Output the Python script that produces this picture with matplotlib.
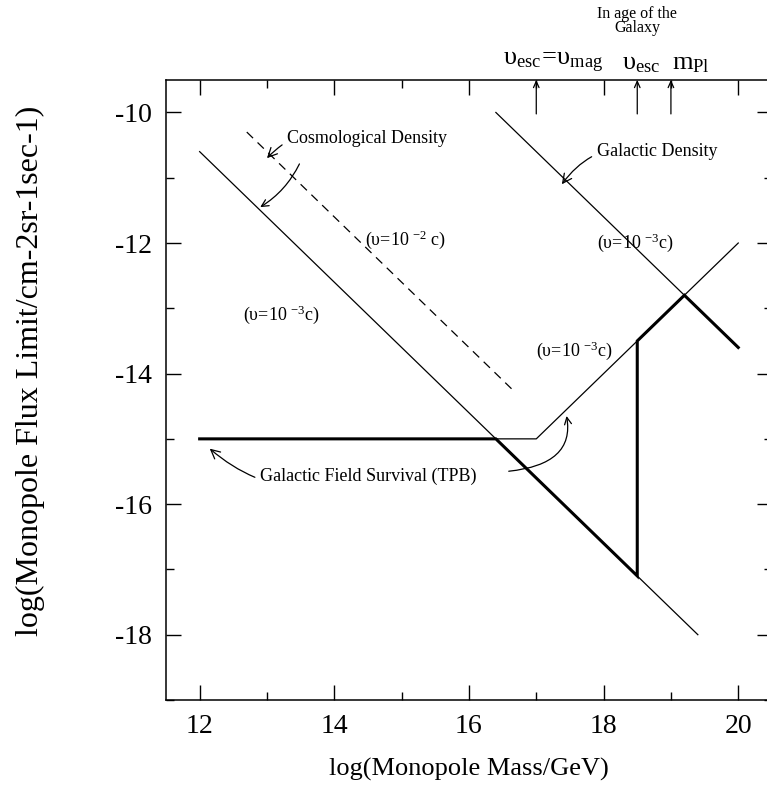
import matplotlib
matplotlib.use("Agg")
import matplotlib.pyplot as plt
from matplotlib.ticker import MultipleLocator
import matplotlib.transforms as mtransforms

plt.rcParams["font.family"] = ["Liberation Serif", "DejaVu Serif"]
plt.rcParams["mathtext.fontset"] = "custom"
plt.rcParams["mathtext.rm"] = "Liberation Serif"
plt.rcParams["mathtext.it"] = "Liberation Serif:italic"

# cosmological density bound, v = 1e-3 c
mass_cosmo = [12.0, 19.4]
flux_cosmo = [-10.6, -18.0]
# cosmological density bound, v = 1e-2 c
mass_cosmo2 = [12.7, 16.65]
flux_cosmo2 = [-10.3, -14.25]
# galactic density bound
mass_gal = [16.4, 20.0]
flux_gal = [-10.0, -13.6]
# galactic field survival (Parker bound)
mass_tpb = [12.0, 17.0, 20.0]
flux_tpb = [-15.0, -15.0, -12.0]
# combined limit (thick)
mass_lim = [12.0, 16.4, 18.5, 18.5, 19.2, 20.0]
flux_lim = [-15.0, -15.0, -17.1, -13.5, -12.8, -13.6]

# markers on the top axis
mark_mass = [17.0, 18.5, 19.0]

fig = plt.figure(figsize=(7.67, 7.88), dpi=100)
ax = fig.add_axes([0.2164, 0.1117, 0.790, 0.787])

ax.plot(mass_cosmo, flux_cosmo, color="k", lw=0.9)
ax.plot(mass_cosmo2, flux_cosmo2, color="k", lw=0.9, ls=(0, (7, 5)))
ax.plot(mass_gal, flux_gal, color="k", lw=0.9)
ax.plot(mass_tpb, flux_tpb, color="k", lw=0.9)
ax.plot(mass_lim, flux_lim, color="k", lw=2.2, solid_joinstyle="miter")

ax.set_xlim(11.5, 20.5)
ax.set_ylim(-19.0, -9.5)
ax.xaxis.set_major_locator(MultipleLocator(2))
ax.xaxis.set_minor_locator(MultipleLocator(1))
ax.yaxis.set_major_locator(MultipleLocator(2))
ax.yaxis.set_minor_locator(MultipleLocator(1))
ax.tick_params(which="both", direction="in", top=True, right=True, width=1.0,
               labelsize=20, pad=10)
ax.tick_params(which="major", length=11)
ax.tick_params(which="minor", length=6)
for s in ax.spines.values():
    s.set_linewidth(1.1)
ax.set_yticks([-10, -12, -14, -16, -18])
ax.set_yticklabels(["-10", "-12", "-14", "-16", "-18"])

ax.set_xlabel("log(Monopole Mass/GeV)", fontsize=19, labelpad=14)
ax.set_ylabel("log(Monopole Flux Limit/cm-2sr-1sec-1)", fontsize=23)
ax.yaxis.set_label_coords(-0.2, 0.53)

# line labels
ax.text(14.45, -11.95, r"(υ=10$\ ^{-2}$ c)", fontsize=13, ha="left", va="center")
ax.text(12.64, -13.1, r"(υ=10$\ ^{-3}$c)", fontsize=13, ha="left", va="center")
ax.text(17.9, -12.0, r"(υ=10$\ ^{-3}$c)", fontsize=13, ha="left", va="center")
ax.text(17.0, -13.65, r"(υ=10$\ ^{-3}$c)", fontsize=13, ha="left", va="center")

arr = dict(arrowstyle="->,head_length=0.5,head_width=0.25", color="k", lw=0.9,
           shrinkA=2, shrinkB=0)

ax.annotate("Cosmological Density", xy=(13.0, -10.7), xytext=(13.3, -10.4),
            fontsize=13, ha="left", va="center",
            arrowprops=dict(arr, connectionstyle="arc3,rad=0.35"))
ax.annotate("", xy=(12.9, -11.45), xytext=(13.5, -10.75),
            arrowprops=dict(arr, connectionstyle="arc3,rad=-0.15"))
ax.annotate("Galactic Density", xy=(17.38, -11.1), xytext=(17.9, -10.6),
            fontsize=13, ha="left", va="center",
            arrowprops=dict(arr, connectionstyle="arc3,rad=0.35"))
ax.annotate("Galactic Field Survival (TPB)", xy=(12.15, -15.15), xytext=(12.9, -15.57),
            fontsize=13, ha="left", va="center",
            arrowprops=dict(arr, connectionstyle="arc3,rad=-0.3"))
ax.annotate("", xy=(17.45, -14.65), xytext=(16.55, -15.5),
            arrowprops=dict(arr, connectionstyle="angle3,angleA=5,angleB=100"))

# top axis markers
trans = mtransforms.blended_transform_factory(ax.transData, ax.transAxes)
for m in mark_mass:
    ax.annotate("", xy=(m, 1.0), xytext=(m, 0.945), xycoords=trans, textcoords=trans,
                arrowprops=dict(arrowstyle="->,head_length=0.45,head_width=0.2",
                                color="k", lw=0.9, shrinkA=0, shrinkB=0))
ax.text(16.5, 1.008, r"$\mathrm{υ}_{\mathrm{esc}}\!=\!\mathrm{υ}_{\mathrm{mag}}$",
        transform=trans, fontsize=19, ha="left", va="bottom")
ax.text(18.56, 1.008, r"$\mathrm{υ}_{\mathrm{esc}}$",
        transform=trans, fontsize=19, ha="center", va="bottom")
ax.text(19.3, 1.008, r"$\mathrm{m}_{\mathrm{Pl}}$",
        transform=trans, fontsize=19, ha="center", va="bottom")
ax.text(18.5, 1.07, "In age of the\nGalaxy", transform=trans, fontsize=11.5,
        ha="center", va="bottom", linespacing=0.85)

fig.savefig("out.png", dpi=100)
